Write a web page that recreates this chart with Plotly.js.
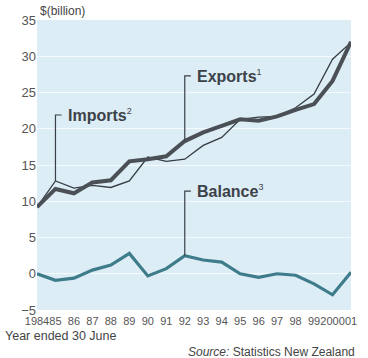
<!DOCTYPE html>
<html>
<head>
<meta charset="utf-8">
<script src="https://cdn.plot.ly/plotly-3.0.1.min.js"></script>
<style>
  body { margin: 0; background: #fff; }
  #chart { width: 368px; height: 358px; }
</style>
</head>
<body>
<div id="chart"></div>
<script>
const years = [1984, 1985, 1986, 1987, 1988, 1989, 1990, 1991, 1992, 1993, 1994, 1995, 1996, 1997, 1998, 1999, 2000, 2001];
const yearLabels = ["1984", "85", "86", "87", "88", "89", "90", "91", "92", "93", "94", "95", "96", "97", "98", "99", "2000", "01"];
const exportsBn = [9.2, 11.7, 11.1, 12.6, 12.9, 15.5, 15.8, 16.2, 18.3, 19.5, 20.4, 21.3, 21.1, 21.7, 22.6, 23.4, 26.6, 32.0];
const importsBn = [9.2, 12.8, 11.8, 12.2, 11.9, 12.8, 16.1, 15.5, 15.8, 17.7, 18.8, 21.3, 21.6, 21.7, 22.9, 24.8, 29.6, 31.9];
const balanceBn = [0.0, -0.9, -0.6, 0.5, 1.2, 2.8, -0.3, 0.7, 2.5, 1.9, 1.6, 0.0, -0.5, 0.0, -0.2, -1.4, -2.9, 0.2];

const textColor = "#3c4249";

const traces = [
  {
    x: years, y: importsBn, mode: "lines", name: "Imports",
    line: { color: "#363c44", width: 1.3 }
  },
  {
    x: years, y: exportsBn, mode: "lines", name: "Exports",
    line: { color: "#4b5056", width: 4 }
  },
  {
    x: years, y: balanceBn, mode: "lines", name: "Balance",
    line: { color: "#3f7c8b", width: 3.2 }
  }
];

// callouts: [series, index of year, label level, text]
const sup = n => `<sup><span style="font-size:9px">${n}</span></sup>`;
const callouts = [
  [importsBn, 1, 21.9, "<b>Imports</b>" + sup(2)],
  [exportsBn, 8, 27.3, "<b>Exports</b>" + sup(1)],
  [balanceBn, 8, 11.4, "<b>Balance</b>" + sup(3)]
];

const shapes = [];
const annotations = [];
callouts.forEach(([series, i, level, label]) => {
  const x0 = years[i];
  shapes.push({
    type: "path",
    path: `M ${x0},${series[i]} L ${x0},${level} L ${x0 + 0.33},${level}`,
    line: { color: "#3a4047", width: 1.2 }
  });
  annotations.push({
    x: x0 + 0.55, y: level, xref: "x", yref: "y",
    text: label, showarrow: false, xanchor: "left", yanchor: "middle",
    font: { family: "Liberation Sans, Arial, sans-serif", size: 16, color: textColor }
  });
});

annotations.push(
  {
    xref: "paper", yref: "paper", x: 0.003, y: 1.03, xanchor: "left", yanchor: "middle",
    text: "$(billion)", showarrow: false,
    font: { family: "Liberation Sans, Arial, sans-serif", size: 12, color: "#444" }
  },
  {
    xref: "paper", yref: "paper", x: -0.108, y: -0.09, xanchor: "left", yanchor: "middle",
    text: "Year ended 30 June", showarrow: false,
    font: { family: "Liberation Sans, Arial, sans-serif", size: 12.5, color: "#444" }
  },
  {
    xref: "paper", yref: "paper", x: 1.02, y: -0.145, xanchor: "right", yanchor: "middle",
    text: "<i>Source:</i> Statistics New Zealand", showarrow: false,
    font: { family: "Liberation Sans, Arial, sans-serif", size: 12, color: "#444" }
  }
);

const layout = {
  width: 368,
  height: 358,
  margin: { l: 37, r: 17, t: 20, b: 48 },
  paper_bgcolor: "#ffffff",
  plot_bgcolor: "#dcedf5",
  showlegend: false,
  xaxis: {
    range: [1984, 2001],
    tickvals: years,
    ticktext: yearLabels,
    tickangle: 0,
    showgrid: false,
    zeroline: false,
    showline: false,
    ticks: "",
    ticklabelstandoff: 3,
    tickfont: { family: "Liberation Sans Narrow, Arial Narrow, Liberation Sans, sans-serif", size: 11, color: "#555" }
  },
  yaxis: {
    range: [-5, 35],
    dtick: 5,
    tick0: 0,
    showgrid: true,
    gridcolor: "#f4fafd",
    gridwidth: 1,
    zeroline: false,
    showline: false,
    ticks: "",
    tickfont: { family: "Liberation Sans, Arial, sans-serif", size: 13, color: "#555" }
  },
  shapes: shapes,
  annotations: annotations
};

Plotly.newPlot("chart", traces, layout, { displayModeBar: false, staticPlot: true });
</script>
</body>
</html>
